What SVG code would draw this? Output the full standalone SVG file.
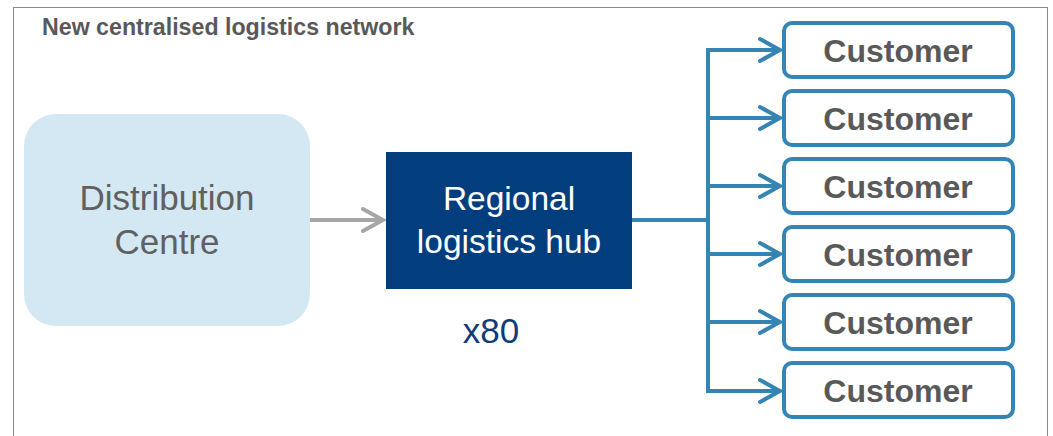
<svg xmlns="http://www.w3.org/2000/svg" width="1053" height="436" viewBox="0 0 1053 436">
  <style>
    .title { font-family: "Liberation Sans", Arial, sans-serif; font-weight: bold; font-size: 23.2px; fill: #595959; }
    .dc-text { font-family: "Liberation Sans", Arial, sans-serif; font-size: 35px; fill: #606060; text-anchor: middle; }
    .hub-text { font-family: "Liberation Sans", Arial, sans-serif; font-size: 33.5px; fill: #ffffff; text-anchor: middle; }
    .count { font-family: "Liberation Sans", Arial, sans-serif; font-size: 35px; fill: #0d3c78; text-anchor: middle; }
    .cust-box { fill: #ffffff; stroke: #3585b4; stroke-width: 4; }
    .cust-text { font-family: "Liberation Sans", Arial, sans-serif; font-weight: bold; font-size: 32px; fill: #595959; text-anchor: middle; }
    .flow { fill: none; stroke: #3585b4; stroke-width: 4; }
    .feed { fill: none; stroke: #a6a6a6; stroke-width: 4; }
  </style>
  <defs>
    <marker id="chev-blue" markerUnits="userSpaceOnUse" markerWidth="30" markerHeight="30" viewBox="-26 -15 30 30" refX="0" refY="0" orient="auto">
      <path d="M -20 -11 L 0 0 L -20 11" fill="none" stroke="#3585b4" stroke-width="4" stroke-linecap="round" stroke-linejoin="miter"/>
    </marker>
    <marker id="chev-grey" markerUnits="userSpaceOnUse" markerWidth="30" markerHeight="30" viewBox="-26 -15 30 30" refX="0" refY="0" orient="auto">
      <path d="M -20 -11 L 0 0 L -20 11" fill="none" stroke="#a6a6a6" stroke-width="4" stroke-linecap="round" stroke-linejoin="miter"/>
    </marker>
  </defs>

  <rect width="1053" height="436" fill="#ffffff"/>
  <!-- outer panel frame -->
  <rect x="13.5" y="7.5" width="1034" height="450" fill="none" stroke="#8a8a8a" stroke-width="1"/>

  <text class="title" x="42" y="35">New centralised logistics network</text>

  <g id="connectors">
    <line class="feed" x1="310" y1="220" x2="383" y2="220" marker-end="url(#chev-grey)"/>
    <polyline class="flow" points="632,220 708,220"/>
    <line class="flow" x1="708" y1="48" x2="708" y2="393"/>
    <line class="flow" x1="706" y1="50" x2="780" y2="50" marker-end="url(#chev-blue)"/>
    <line class="flow" x1="706" y1="118" x2="780" y2="118" marker-end="url(#chev-blue)"/>
    <line class="flow" x1="706" y1="186" x2="780" y2="186" marker-end="url(#chev-blue)"/>
    <line class="flow" x1="706" y1="254" x2="780" y2="254" marker-end="url(#chev-blue)"/>
    <line class="flow" x1="706" y1="322" x2="780" y2="322" marker-end="url(#chev-blue)"/>
    <line class="flow" x1="706" y1="391" x2="780" y2="391" marker-end="url(#chev-blue)"/>
  </g>

  <g id="distribution-centre">
    <rect x="24" y="114" width="286" height="212" rx="32" fill="#d3e8f3"/>
    <text class="dc-text" x="167" y="210">Distribution</text>
    <text class="dc-text" x="167" y="254">Centre</text>
  </g>

  <g id="regional-hub">
    <rect x="386" y="152" width="246" height="137" fill="#023e7d"/>
    <text class="hub-text" x="509" y="210">Regional</text>
    <text class="hub-text" x="509" y="253">logistics hub</text>
    <text class="count" x="491" y="343">x80</text>
  </g>

  <g id="customer-1">
    <rect class="cust-box" x="784" y="23" width="229" height="54" rx="8"/>
    <text class="cust-text" x="898" y="62">Customer</text>
  </g>
  <g id="customer-2">
    <rect class="cust-box" x="784" y="91" width="229" height="54" rx="8"/>
    <text class="cust-text" x="898" y="130">Customer</text>
  </g>
  <g id="customer-3">
    <rect class="cust-box" x="784" y="159" width="229" height="54" rx="8"/>
    <text class="cust-text" x="898" y="198">Customer</text>
  </g>
  <g id="customer-4">
    <rect class="cust-box" x="784" y="227" width="229" height="54" rx="8"/>
    <text class="cust-text" x="898" y="266">Customer</text>
  </g>
  <g id="customer-5">
    <rect class="cust-box" x="784" y="295" width="229" height="54" rx="8"/>
    <text class="cust-text" x="898" y="334">Customer</text>
  </g>
  <g id="customer-6">
    <rect class="cust-box" x="784" y="363" width="229" height="54" rx="8"/>
    <text class="cust-text" x="898" y="402">Customer</text>
  </g>
</svg>
